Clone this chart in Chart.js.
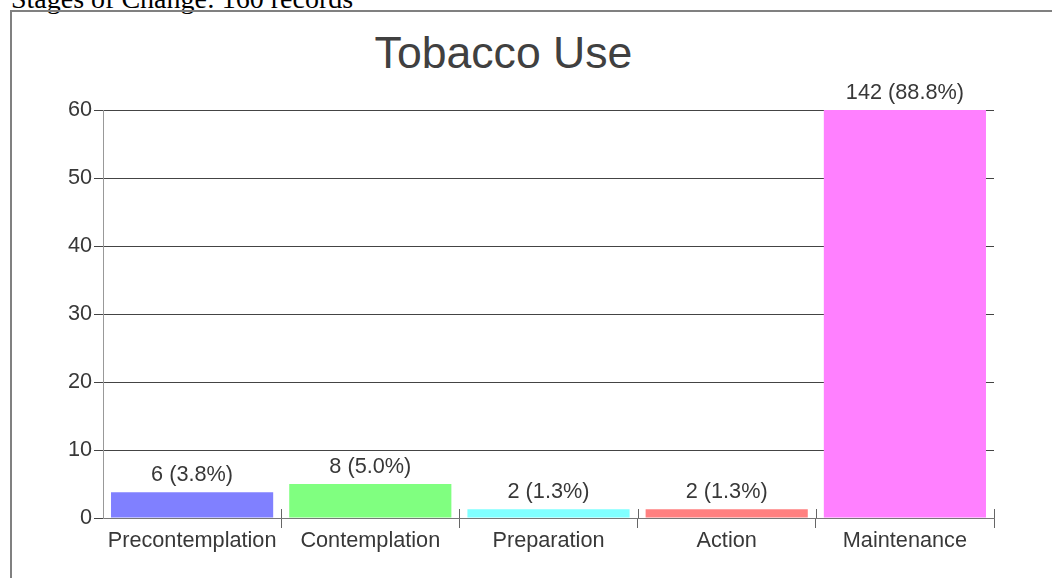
<!DOCTYPE html>
<html>
<head>
<meta charset="utf-8">
<script src="https://cdn.jsdelivr.net/npm/chart.js@4/dist/chart.umd.min.js"></script>
<style>
  html, body { margin: 0; padding: 0; width: 1052px; height: 578px; overflow: hidden; background: #fff; }
  #caption {
    position: absolute; left: 11px; top: -15px;
    font: 28px/28px "Liberation Serif", "Times New Roman", serif;
    color: #000; white-space: nowrap;
  }
  #frame {
    position: absolute; left: 10px; top: 10px; width: 2000px; height: 2000px;
    border: 2px solid #808080;
  }
  #heading {
    position: absolute; left: 0; top: 31px; width: 1007px; text-align: center;
    font: 44.6px/44.6px "Liberation Sans", Arial, sans-serif; color: #404040;
  }
  #wrap { position: absolute; left: 0; top: 0; width: 1052px; height: 578px; }
</style>
</head>
<body>
<div id="caption">Stages of Change: 160 records</div>
<div id="frame"></div>
<div id="heading">Tobacco Use</div>
<div id="wrap"><canvas id="chart" width="1052" height="578"></canvas></div>
<script>
// Stages of change for tobacco use
const stages = ['Precontemplation', 'Contemplation', 'Preparation', 'Action', 'Maintenance'];
const counts = [6, 8, 2, 2, 142];
const percents = [3.8, 5.0, 1.3, 1.3, 88.8];
const barColors = ['#8080ff', '#80ff80', '#80ffff', '#ff8080', '#ff80ff'];
const yTicks = [0, 10, 20, 30, 40, 50, 60];

const FONT = '"Liberation Sans", Arial, sans-serif';
const TEXT = '#383838';

// Count and percentage written above each bar
const valueLabels = {
  id: 'valueLabels',
  afterDatasetsDraw(chart) {
    const ctx = chart.ctx;
    const meta = chart.getDatasetMeta(0);
    const area = chart.chartArea;
    ctx.save();
    ctx.font = '21.7px ' + FONT;
    ctx.fillStyle = TEXT;
    ctx.textAlign = 'center';
    ctx.textBaseline = 'alphabetic';
    meta.data.forEach((bar, i) => {
      const top = Math.max(bar.y, area.top);
      ctx.fillText(counts[i] + ' (' + percents[i].toFixed(1) + '%)', bar.x, top - 11);
    });
    ctx.restore();
  }
};

// Category separators reach a little above the axis line too
const separatorMarks = {
  id: 'separatorMarks',
  afterDatasetsDraw(chart) {
    const x = chart.scales.x;
    const ctx = chart.ctx;
    const base = chart.chartArea.bottom;
    ctx.save();
    ctx.strokeStyle = '#666666';
    ctx.lineWidth = 1;
    for (let i = 0; i < stages.length; i++) {
      const px = Math.round(x.getPixelForValue(i + 0.5)) + 0.5;
      ctx.beginPath();
      ctx.moveTo(px, base - 9);
      ctx.lineTo(px, base);
      ctx.stroke();
    }
    ctx.restore();
  }
};

new Chart(document.getElementById('chart'), {
  type: 'bar',
  data: {
    labels: stages,
    datasets: [{
      data: percents,
      backgroundColor: barColors,
      borderWidth: 0,
      barPercentage: 0.91,
      categoryPercentage: 1.0
    }]
  },
  options: {
    responsive: false,
    animation: false,
    devicePixelRatio: 1,
    layout: { padding: { left: 10, right: 58, top: 110, bottom: 0 } },
    plugins: {
      legend: { display: false },
      title: { display: false },
      tooltip: { enabled: false }
    },
    scales: {
      x: {
        offset: true,
        afterFit(scale) { scale.height = 60; },
        grid: {
          offset: true,
          drawOnChartArea: false,
          drawTicks: true,
          tickLength: 10,
          color: (c) => c.index === 0 ? 'rgba(0,0,0,0)' : '#666666',
          tickColor: (c) => c.index === 0 ? 'rgba(0,0,0,0)' : '#666666'
        },
        border: { display: true, color: '#777777', width: 1 },
        ticks: {
          font: { family: FONT, size: 21.7 },
          color: TEXT,
          padding: 0,
          maxRotation: 0,
          autoSkip: false
        }
      },
      y: {
        min: yTicks[0],
        max: yTicks[yTicks.length - 1],
        afterFit(scale) { scale.width = 93; },
        afterBuildTicks(scale) { scale.ticks = yTicks.map(v => ({ value: v })); },
        grid: {
          color: '#444444',
          tickColor: '#444444',
          tickLength: 9,
          drawTicks: true
        },
        border: { display: true, color: '#999999', width: 1 },
        ticks: {
          font: { family: FONT, size: 21.7 },
          color: TEXT,
          padding: 2
        }
      }
    }
  },
  plugins: [valueLabels, separatorMarks]
});
</script>
</body>
</html>
